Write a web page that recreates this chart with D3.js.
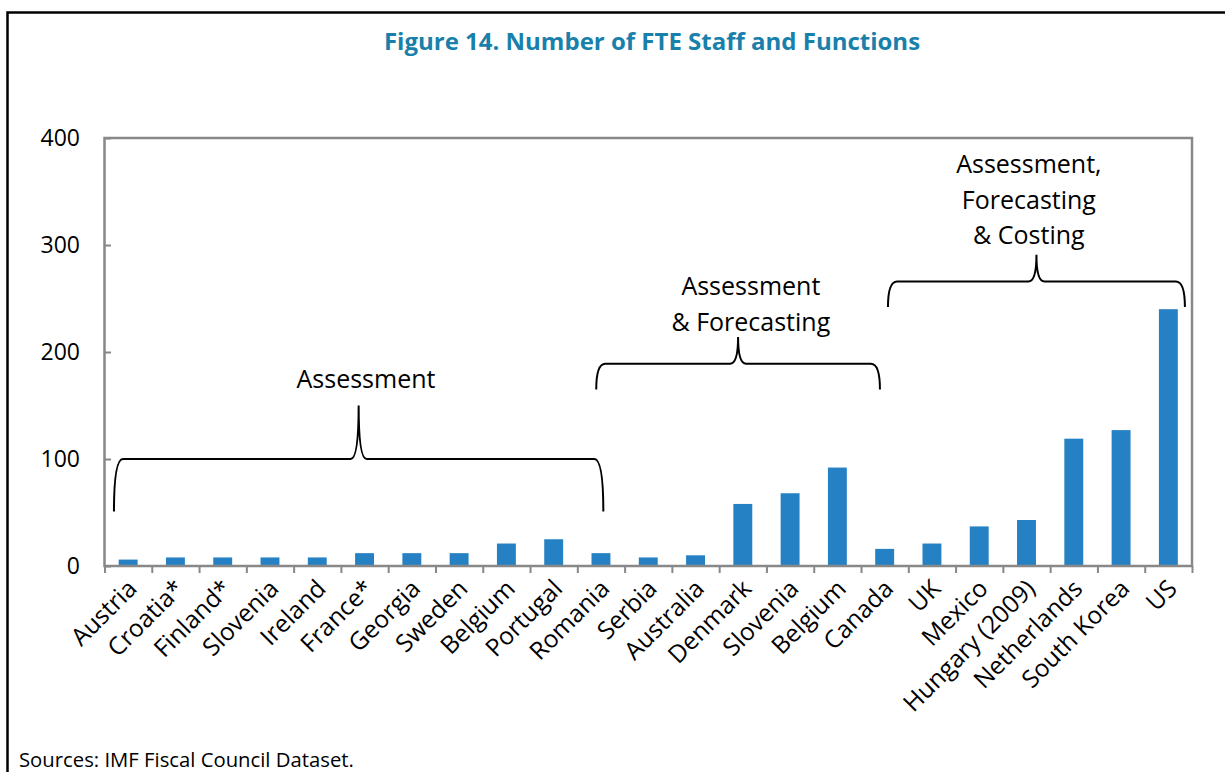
<!DOCTYPE html>
<html>
<head>
<meta charset="utf-8">
<script src="https://cdn.jsdelivr.net/npm/d3@7"></script>
<style>
  body { margin: 0; background: #fff; }
  svg { display: block; font-family: "Open Sans", sans-serif; }
</style>
</head>
<body>
<div id="chart"></div>
<script>
// values
const countries = ["Austria", "Croatia*", "Finland*", "Slovenia", "Ireland", "France*", "Georgia",
  "Sweden", "Belgium", "Portugal", "Romania", "Serbia", "Australia", "Denmark", "Slovenia ",
  "Belgium ", "Canada", "UK", "Mexico", "Hungary (2009)", "Netherlands", "South Korea", "US"];
const staff = [6, 8, 8, 8, 8, 12, 12, 12, 21, 25, 12, 8, 10, 58, 68, 92, 16, 21, 37, 43, 119, 127, 240];
const yTicks = [0, 100, 200, 300, 400];

// function groups: brace span in category units, brace height in value units
const groupLabels = [["Assessment"], ["Assessment", "& Forecasting"], ["Assessment,", "Forecasting", "& Costing"]];
const groupFrom = [0.2, 10.4, 16.57];
const groupTo = [10.55, 16.4, 22.85];
const braceLine = [100, 189, 266];
const braceEnd = [51, 165, 242];
const bracePeak = [150, 214, 291];
const labelCenter = [5.53, 13.67, 19.55];
const labelTop = [166, 253, 367];

const W = 1225, H = 772;
const plot = { left: 104.5, right: 1192, top: 138, bottom: 566 };

const svg = d3.select("#chart").append("svg")
  .attr("width", W)
  .attr("height", H);

svg.append("rect").attr("width", W).attr("height", H).attr("fill", "#fff");

// outer frame (left and top edges visible)
svg.append("path")
  .attr("d", `M7.5,${H} V12.5 H${W}`)
  .attr("fill", "none")
  .attr("stroke", "#000")
  .attr("stroke-width", 2.5);

svg.append("text")
  .attr("x", 652)
  .attr("y", 50)
  .attr("text-anchor", "middle")
  .attr("font-weight", "bold")
  .attr("font-size", 24)
  .attr("fill", "#1880AA")
  .text("Figure 14. Number of FTE Staff and Functions");

const x = d3.scaleBand()
  .domain(d3.range(countries.length))
  .range([plot.left, plot.right])
  .paddingInner(0.6)
  .paddingOuter(0.3);

// category positions as a continuous scale (for ticks and braces)
const xi = d3.scaleLinear().domain([0, countries.length]).range([plot.left, plot.right]);

const y = d3.scaleLinear().domain([0, 400]).range([plot.bottom, plot.top]);

// bars
svg.append("g").selectAll("rect")
  .data(staff)
  .join("rect")
  .attr("x", (d, i) => x(i))
  .attr("y", d => y(d))
  .attr("width", x.bandwidth())
  .attr("height", d => y(0) - y(d))
  .attr("fill", "#2581C4");

// y axis: ticks inside, labels on the left
const yAxis = svg.append("g")
  .attr("transform", `translate(${plot.left},0)`)
  .call(d3.axisRight(y).tickValues(yTicks).tickSize(6.5).tickFormat(""));
yAxis.select(".domain").remove();
yAxis.selectAll("line").attr("stroke", "#888").attr("stroke-width", 2);

svg.append("g").selectAll("text")
  .data(yTicks)
  .join("text")
  .attr("x", 80)
  .attr("y", d => y(d))
  .attr("dy", "0.36em")
  .attr("text-anchor", "end")
  .attr("font-size", 23)
  .attr("fill", "#000")
  .text(d => d);

// x axis ticks at category boundaries
const xAxis = svg.append("g")
  .attr("transform", `translate(0,${plot.bottom})`)
  .call(d3.axisBottom(xi).tickValues(d3.range(countries.length + 1)).tickSize(7).tickFormat(""));
xAxis.select(".domain").remove();
xAxis.selectAll("line").attr("stroke", "#888").attr("stroke-width", 2);

// plot border
svg.append("rect")
  .attr("x", plot.left)
  .attr("y", plot.top)
  .attr("width", plot.right - plot.left)
  .attr("height", plot.bottom - plot.top)
  .attr("fill", "none")
  .attr("stroke", "#888")
  .attr("stroke-width", 2.5);

// rotated category labels
svg.append("g").selectAll("text")
  .data(countries)
  .join("text")
  .attr("transform", (d, i) => `translate(${x(i) + x.bandwidth() / 2 - 2},${plot.bottom + 12}) rotate(-45)`)
  .attr("dy", "0.7em")
  .attr("text-anchor", "end")
  .attr("font-size", 24.5)
  .attr("fill", "#000")
  .text(d => d.trim());

// curly braces
function brace(i) {
  const x0 = xi(groupFrom[i]), x1 = xi(groupTo[i]), xc = (x0 + x1) / 2;
  const yl = y(braceLine[i]), ye = y(braceEnd[i]), yp = y(bracePeak[i]);
  const r = 9, rp = 8;
  return `M${x0},${ye} Q${x0},${yl} ${x0 + r},${yl} L${xc - rp},${yl} Q${xc},${yl} ${xc},${yp}` +
    ` Q${xc},${yl} ${xc + rp},${yl} L${x1 - r},${yl} Q${x1},${yl} ${x1},${ye}`;
}

const groups = svg.append("g");
groupLabels.forEach((lines, i) => {
  groups.append("path")
    .attr("d", brace(i))
    .attr("fill", "none")
    .attr("stroke", "#000")
    .attr("stroke-width", 2);
  const t = groups.append("text")
    .attr("x", xi(labelCenter[i]))
    .attr("y", y(labelTop[i]))
    .attr("text-anchor", "middle")
    .attr("font-size", 25)
    .attr("fill", "#000");
  lines.forEach((s, k) => {
    t.append("tspan")
      .attr("x", xi(labelCenter[i]))
      .attr("dy", k === 0 ? 0 : 35.5)
      .text(s);
  });
});

svg.append("text")
  .attr("x", 19)
  .attr("y", 767)
  .attr("font-size", 20.3)
  .attr("fill", "#000")
  .text("Sources: IMF Fiscal Council Dataset.");
</script>
</body>
</html>
